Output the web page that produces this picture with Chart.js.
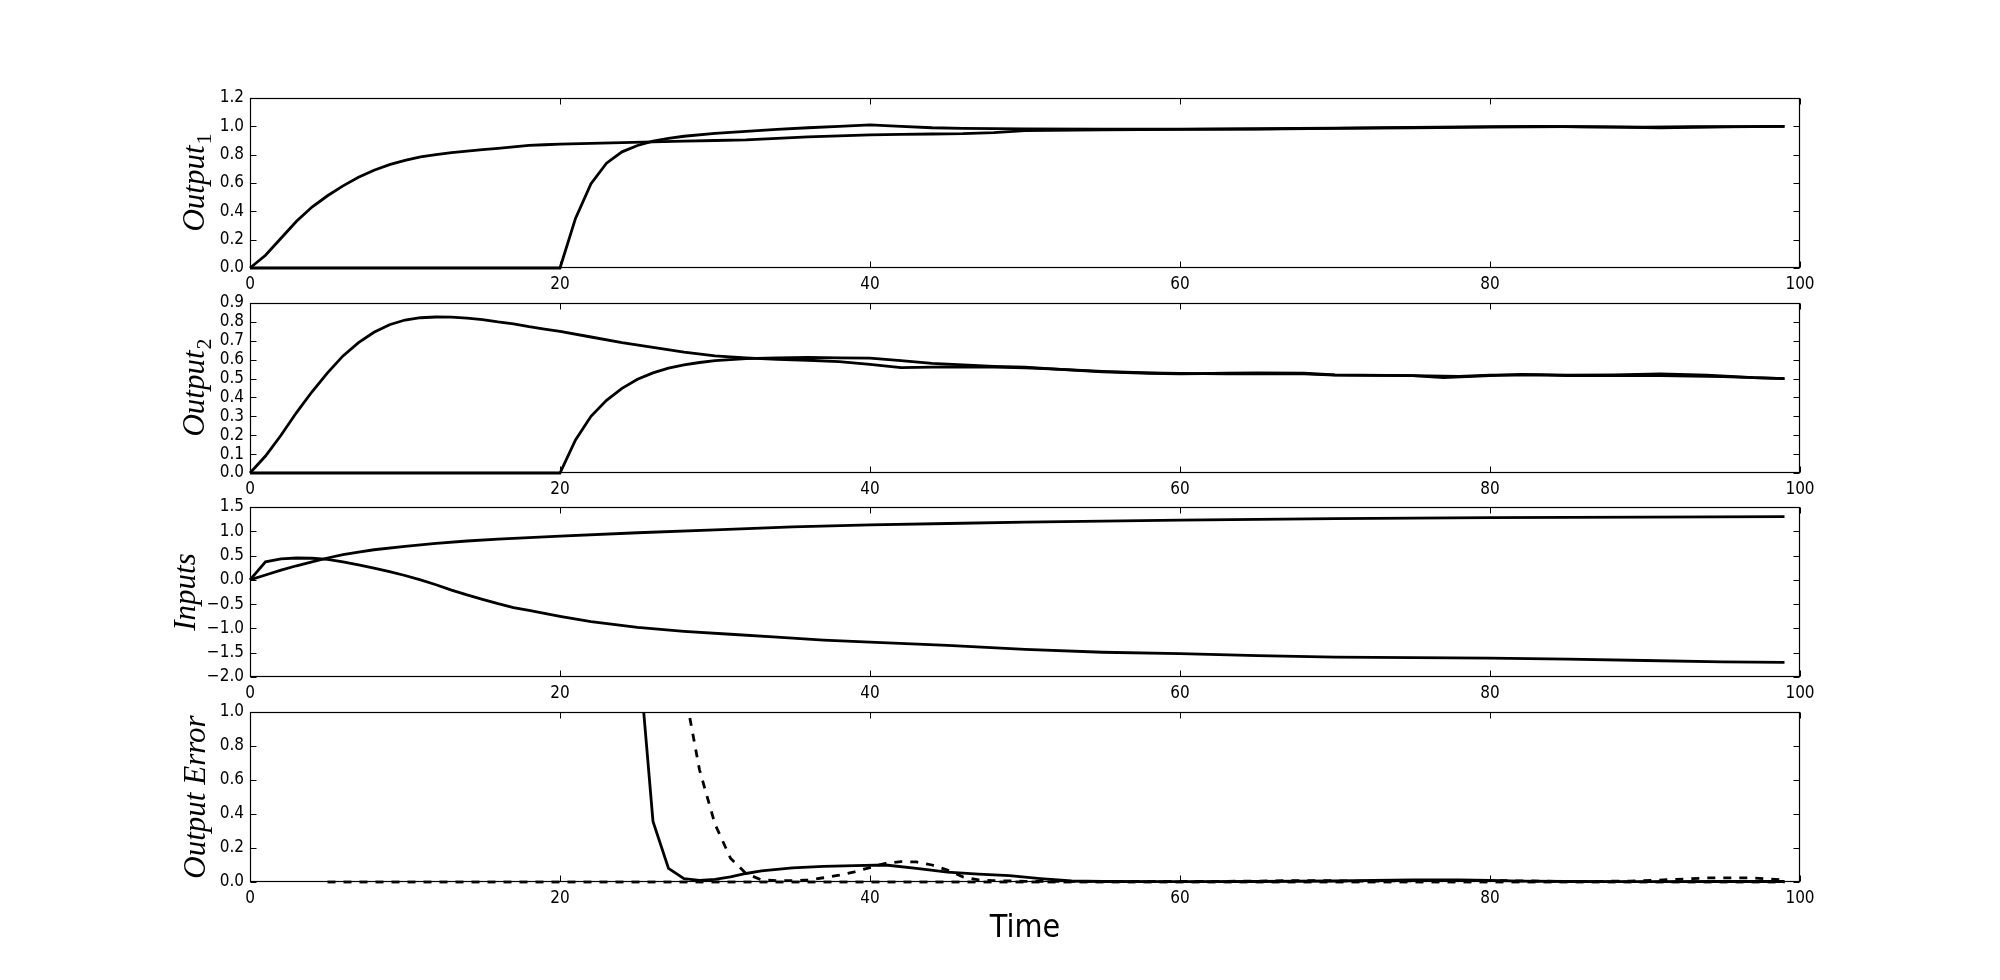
<!DOCTYPE html>
<html><head><meta charset="utf-8">
<script src="https://cdn.jsdelivr.net/npm/chart.js@4.4.1/dist/chart.umd.min.js"></script>
<style>
html,body{margin:0;padding:0;background:#fff;width:2000px;height:980px;overflow:hidden;}
canvas{position:absolute;left:0;}
</style></head><body>
<canvas id="c1"></canvas><canvas id="c2"></canvas><canvas id="c3"></canvas><canvas id="c4"></canvas>
<script>
// ---------- tick values ----------
const xTicks = [0, 20, 40, 60, 80, 100];
const out1Ticks = [0, 0.2, 0.4, 0.6, 0.8, 1.0, 1.2];
const out2Ticks = [0, 0.1, 0.2, 0.3, 0.4, 0.5, 0.6, 0.7, 0.8, 0.9];
const inputTicks = [-2.0, -1.5, -1.0, -0.5, 0, 0.5, 1.0, 1.5];
const errTicks = [0, 0.2, 0.4, 0.6, 0.8, 1.0];

// ---------- Output 1 ----------
const out1A_t = [0,1,2,3,4,5,6,7,8,9,10,11,12,13,14,15,16,17,18,19,20,22,24,26,28,30,32,34,36,38,40,42,44,46,48,50,55,60,65,70,75,80,85,88,91,95,99];
const out1A_y = [0,0.09,0.21,0.33,0.43,0.51,0.58,0.64,0.69,0.73,0.76,0.785,0.80,0.815,0.825,0.835,0.845,0.855,0.865,0.87,0.875,0.88,0.885,0.89,0.895,0.90,0.905,0.915,0.925,0.932,0.94,0.943,0.946,0.948,0.955,0.97,0.975,0.978,0.98,0.985,0.99,0.995,0.998,0.995,0.99,0.996,1.0];
const out1B_t = [0,20,21,22,23,24,25,26,27,28,30,32,34,36,38,40,42,44,46,50,55,60,65,70,75,80,83,86,90,93,96,99];
const out1B_y = [0,0,0.35,0.595,0.74,0.82,0.865,0.895,0.915,0.93,0.95,0.965,0.978,0.99,1.0,1.01,1.0,0.99,0.985,0.982,0.98,0.98,0.983,0.988,0.992,0.998,1.0,0.997,0.995,0.997,0.998,1.0];

// ---------- Output 2 ----------
const out2A_t = [0,1,2,3,4,5,6,7,8,9,10,11,12,13,14,15,16,17,18,19,20,22,24,26,28,30,32,34,36,38,40,42,45,48,50,52,55,58,60,63,65,68,70,75,77,80,82,85,88,91,94,97,99];
const out2A_y = [0,0.09,0.2,0.32,0.43,0.53,0.62,0.69,0.745,0.785,0.81,0.822,0.826,0.825,0.82,0.812,0.80,0.79,0.775,0.762,0.75,0.72,0.69,0.665,0.64,0.62,0.61,0.602,0.597,0.59,0.575,0.558,0.562,0.56,0.557,0.55,0.535,0.528,0.525,0.528,0.53,0.528,0.52,0.515,0.505,0.515,0.522,0.518,0.52,0.525,0.518,0.505,0.5];
const out2B_t = [0,20,21,22,23,24,25,26,27,28,29,30,32,34,36,38,40,42,44,46,48,50,52,55,58,60,63,65,68,70,75,78,80,83,85,88,91,95,99];
const out2B_y = [0,0,0.175,0.3,0.385,0.448,0.496,0.53,0.555,0.572,0.585,0.595,0.605,0.61,0.612,0.61,0.608,0.595,0.58,0.572,0.565,0.56,0.55,0.538,0.53,0.527,0.525,0.525,0.525,0.518,0.515,0.512,0.518,0.52,0.515,0.515,0.515,0.51,0.5];

// ---------- Inputs ----------
const inU_t = [0,1,2,3,4,5,6,7,8,10,12,14,16,18,20,25,30,35,40,45,50,60,70,80,90,99];
const inU_y = [0,0.1,0.2,0.29,0.37,0.45,0.52,0.57,0.62,0.69,0.75,0.8,0.84,0.87,0.9,0.97,1.03,1.09,1.13,1.16,1.19,1.23,1.26,1.28,1.29,1.3];
const inL_t = [0,1,2,3,4,5,6,7,8,9,10,11,12,13,14,15,16,17,18,19,20,22,25,28,31,34,37,40,45,50,55,60,65,70,75,80,85,90,95,99];
const inL_y = [0,0.37,0.43,0.45,0.445,0.42,0.37,0.31,0.24,0.17,0.09,0.0,-0.1,-0.21,-0.31,-0.4,-0.49,-0.57,-0.63,-0.69,-0.75,-0.86,-0.98,-1.06,-1.12,-1.18,-1.24,-1.28,-1.35,-1.43,-1.49,-1.52,-1.56,-1.59,-1.6,-1.61,-1.63,-1.66,-1.69,-1.7];

// ---------- Output error ----------
const errS_t = [25,26,27,28,29,30,31,32,33,35,37,39,41,43,45,47,49,51,53,55,60,65,70,75,78,80,82,85,90,95,99];
const errS_y = [1.43,0.356,0.08,0.02,0.01,0.015,0.03,0.05,0.065,0.083,0.092,0.096,0.1,0.08,0.058,0.046,0.038,0.02,0.006,0.003,0.002,0.003,0.006,0.012,0.013,0.01,0.005,0.003,0.002,0.003,0.003];
const errD_t = [28,29,30,31,32,33,34,35,36,37,38,39,40,41,42,43,44,45,46,47,48,50,55,60,65,67,69,72,76,79,81,85,89,92,94,97,99];
const errD_y = [1.15,0.66,0.34,0.14,0.05,0.012,0.008,0.008,0.012,0.025,0.04,0.06,0.085,0.11,0.12,0.118,0.1,0.07,0.03,0.012,0.008,0.004,0.003,0.003,0.005,0.008,0.008,0.005,0.008,0.01,0.008,0.003,0.005,0.015,0.024,0.024,0.012];
const errZ_t = [5,99];
const errZ_y = [0,0];

// ---------- rendering ----------
const SANS = "'Liberation Sans Narrow','DejaVu Sans Condensed','Roboto Condensed','DejaVu Sans',sans-serif";
const SERIF = "'Liberation Serif','DejaVu Serif',serif";
const LW = 2.8;

function pts(t, y) { return t.map((v, i) => ({x: v, y: y[i]})); }
function fmt(v) { const s = Math.abs(v).toFixed(1); return (v < 0 ? '\u2212' : '') + s; }

const framePlugin = {
  id: 'frame',
  afterDraw(chart, args, o) {
    const {ctx, chartArea: a} = chart;
    const xs = chart.scales.x, ys = chart.scales.y;
    const L = Math.round(a.left) + 0.5, R = Math.round(a.right) - 0.5;
    const T = Math.round(a.top) + 0.5, B = Math.round(a.bottom) - 0.5;
    ctx.save();
    ctx.strokeStyle = '#000';
    ctx.lineWidth = 1.2;
    ctx.strokeRect(L, T, R - L, B - T);
    ctx.beginPath();
    xs.ticks.forEach(t => {
      const px = Math.round(xs.getPixelForValue(t.value)) + 0.5;
      ctx.moveTo(px, B); ctx.lineTo(px, B - 6);
      ctx.moveTo(px, T); ctx.lineTo(px, T + 6);
    });
    ys.ticks.forEach(t => {
      const py = Math.round(ys.getPixelForValue(t.value)) + 0.5;
      ctx.moveTo(L, py); ctx.lineTo(L + 6, py);
      ctx.moveTo(R, py); ctx.lineTo(R - 6, py);
    });
    ctx.lineWidth = 1;
    ctx.stroke();

    // y-axis label (rotated, italic, optional subscript)
    const cy = (a.top + a.bottom) / 2;
    ctx.translate(o.labelX, cy);
    ctx.rotate(-Math.PI / 2);
    ctx.fillStyle = '#000';
    ctx.textBaseline = 'alphabetic';
    ctx.textAlign = 'left';
    const fs = 31;
    ctx.font = 'italic ' + fs + 'px ' + SERIF;
    const w = ctx.measureText(o.label).width;
    let ws = 0;
    const sfs = Math.round(fs * 0.7);
    if (o.sub) { ctx.font = sfs + 'px ' + SERIF; ws = ctx.measureText(o.sub).width; }
    const x0 = -(w + ws) / 2;
    const base = fs * 0.33;
    ctx.font = 'italic ' + fs + 'px ' + SERIF;
    ctx.fillText(o.label, x0, base);
    if (o.sub) { ctx.font = sfs + 'px ' + SERIF; ctx.fillText(o.sub, x0 + w + 1, base + fs * 0.22); }
    ctx.restore();

    if (o.xTitle) {
      ctx.save();
      ctx.fillStyle = '#000';
      ctx.font = '32px ' + SANS;
      ctx.textAlign = 'center';
      ctx.textBaseline = 'middle';
      ctx.fillText(o.xTitle, (a.left + a.right) / 2, o.xTitleY);
      ctx.restore();
    }
  }
};

const PAD_TOP = 20;
function makePanel(id, top, height, yMin, yMax, yTicks, datasets, label, sub, labelX, extraBottom, xTitle) {
  const c = document.getElementById(id);
  const bottomH = 40 + extraBottom;
  const H = PAD_TOP + height + bottomH;
  c.width = 2000; c.height = H;
  c.style.top = (top - PAD_TOP) + 'px';
  c.style.width = '2000px'; c.style.height = H + 'px';
  new Chart(c, {
    type: 'line',
    data: {datasets},
    options: {
      responsive: false, animation: false, devicePixelRatio: 1,
      layout: {padding: {top: PAD_TOP, right: 200, left: 0, bottom: 0}},
      elements: {point: {radius: 0}, line: {tension: 0}},
      plugins: {
        legend: {display: false}, tooltip: {enabled: false},
        frame: {label, sub, labelX, xTitle, xTitleY: PAD_TOP + height + 47}
      },
      scales: {
        x: {
          type: 'linear', min: 0, max: 100,
          afterBuildTicks: s => { s.ticks = xTicks.map(v => ({value: v})); },
          afterFit: s => { s.height = bottomH; },
          grid: {display: false, drawTicks: false}, border: {display: false},
          ticks: {color: '#000', font: {family: SANS, size: 17}, padding: 6, maxRotation: 0, autoSkip: false,
                  callback: v => String(v)}
        },
        y: {
          type: 'linear', min: yMin, max: yMax,
          afterBuildTicks: s => { s.ticks = yTicks.map(v => ({value: v})); },
          afterFit: s => { s.width = 250; },
          grid: {display: false, drawTicks: false}, border: {display: false},
          ticks: {color: '#000', font: {family: SANS, size: 17}, padding: 6, autoSkip: false,
                  callback: v => fmt(v)}
        }
      }
    },
    plugins: [framePlugin]
  });
}

const CLIP = {left: 2, right: 2, top: 0, bottom: 3};
function solid(t, y) { return {data: pts(t, y), borderColor: '#000', borderWidth: LW, fill: false, clip: CLIP}; }
function dashed(t, y) { return {data: pts(t, y), borderColor: '#000', borderWidth: LW, borderDash: [8, 8], fill: false, clip: CLIP}; }

makePanel('c1', 98, 170, 0, 1.2, out1Ticks,
  [solid(out1A_t, out1A_y), solid(out1B_t, out1B_y)], 'Output', '1', 194, 0, null);
makePanel('c2', 303, 170, 0, 0.9, out2Ticks,
  [solid(out2A_t, out2A_y), solid(out2B_t, out2B_y)], 'Output', '2', 194, 0, null);
makePanel('c3', 507, 170, -2.0, 1.5, inputTicks,
  [solid(inU_t, inU_y), solid(inL_t, inL_y)], 'Inputs', '', 185, 0, null);
makePanel('c4', 712, 170, 0, 1.0, errTicks,
  [solid(errS_t, errS_y), dashed(errD_t, errD_y), dashed(errZ_t, errZ_y)], 'Output Error', '', 195, 60, 'Time');
</script>
</body></html>
